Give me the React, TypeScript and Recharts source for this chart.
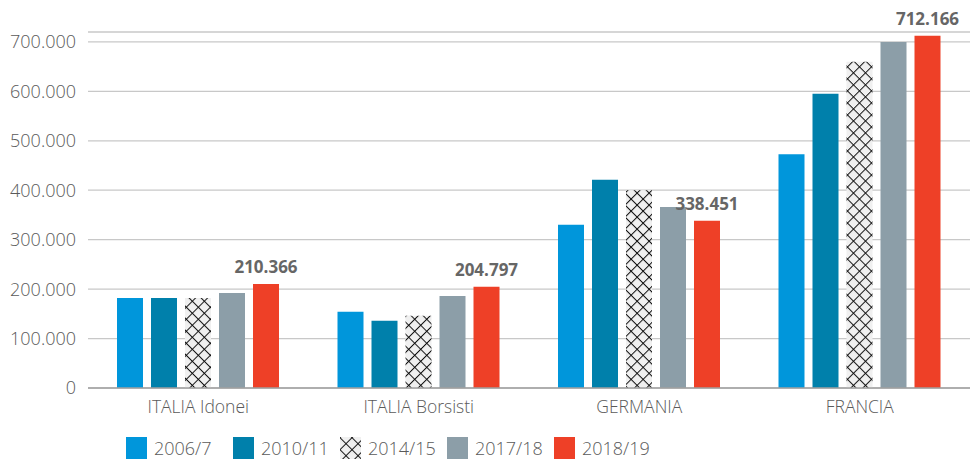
import { BarChart, Bar, XAxis, YAxis, CartesianGrid, LabelList } from 'recharts';

const categories = ['ITALIA Idonei', 'ITALIA Borsisti', 'GERMANIA', 'FRANCIA'];
const seriesNames = ['2006/7', '2010/11', '2014/15', '2017/18', '2018/19'];
const s2006 = [182000, 154000, 330000, 473000];
const s2010 = [182000, 136000, 421000, 595000];
const s2014 = [182000, 146000, 400000, 660000];
const s2017 = [192000, 186000, 366000, 700000];
const s2018 = [210366, 204797, 338451, 712166];
const yTicks = [0, 100000, 200000, 300000, 400000, 500000, 600000, 700000];

const colors = ['#0096db', '#0080ab', 'url(#hatch)', '#8c9ea8', '#ee4027'];
const keys = ['a', 'b', 'c', 'd', 'e'];

const data = categories.map((name, i) => ({
  name,
  a: s2006[i],
  b: s2010[i],
  c: s2014[i],
  d: s2017[i],
  e: s2018[i],
}));

const fmt = (v: number) => String(v).replace(/\B(?=(\d{3})+(?!\d))/g, '.');
const font = '"Open Sans", "Noto Sans", sans-serif';

function Hatch({ id }: { id: string }) {
  return (
    <pattern id={id} patternUnits="userSpaceOnUse" width="8.5" height="8.5" patternTransform="rotate(45)">
      <rect width="8.5" height="8.5" fill="#f0f0f0" />
      <line x1="0" y1="0" x2="0" y2="8.5" stroke="#111" strokeWidth="2" />
      <line x1="0" y1="0" x2="8.5" y2="0" stroke="#111" strokeWidth="2" />
    </pattern>
  );
}

export default function App() {
  return (
    <div style={{ position: 'absolute', left: 0, top: 0, width: 970, height: 460, background: '#fff', fontFamily: font }}>
      <BarChart
        width={970}
        height={460}
        data={data}
        margin={{ top: 32, right: 0, bottom: 42, left: 0 }}
        barSize={26}
        barGap={8}
      >
        <defs>
          <Hatch id="hatch" />
        </defs>
        <CartesianGrid vertical={false} stroke="#c8c8c8" strokeWidth={1.3} />
        <XAxis
          dataKey="name"
          height={30}
          tickLine={false}
          axisLine={{ stroke: '#a0a0a0', strokeWidth: 1.5 }}
          tickMargin={7}
          tick={{ fill: '#5a5a5a', fontSize: 17.5, fontFamily: font, fontWeight: 300 }}
        />
        <YAxis
          width={88}
          domain={[0, 720000]}
          ticks={yTicks}
          tickFormatter={fmt}
          axisLine={false}
          tickLine={false}
          tickSize={0}
          tickMargin={12}
          tick={{ fill: '#5a5a5a', fontSize: 18, fontFamily: font, fontWeight: 300 }}
        />
        {keys.map((k, i) => (
          <Bar key={k} dataKey={k} name={seriesNames[i]} fill={colors[i]} isAnimationActive={false}>
            {i === 4 && (
              <LabelList
                dataKey={k}
                position="top"
                offset={11}
                formatter={(v: any) => fmt(Number(v))}
                style={{ fill: '#666', fontSize: 17, fontWeight: 700, fontFamily: font }}
              />
            )}
          </Bar>
        ))}
      </BarChart>
      <div style={{ position: 'absolute', left: 126, top: 437, display: 'flex' }}>
        {seriesNames.map((n, i) => (
          <div key={n} style={{ display: 'flex', alignItems: 'center', width: 107 }}>
            <svg width={21} height={22} style={{ marginRight: 7, display: 'block' }}>
              <defs>
                <Hatch id={'lh' + i} />
              </defs>
              <rect width={21} height={22} fill={i === 2 ? 'url(#lh' + i + ')' : colors[i]} />
            </svg>
            <span style={{ fontSize: 18, fontWeight: 300, color: '#5a5a5a', lineHeight: '22px' }}>{n}</span>
          </div>
        ))}
      </div>
    </div>
  );
}
